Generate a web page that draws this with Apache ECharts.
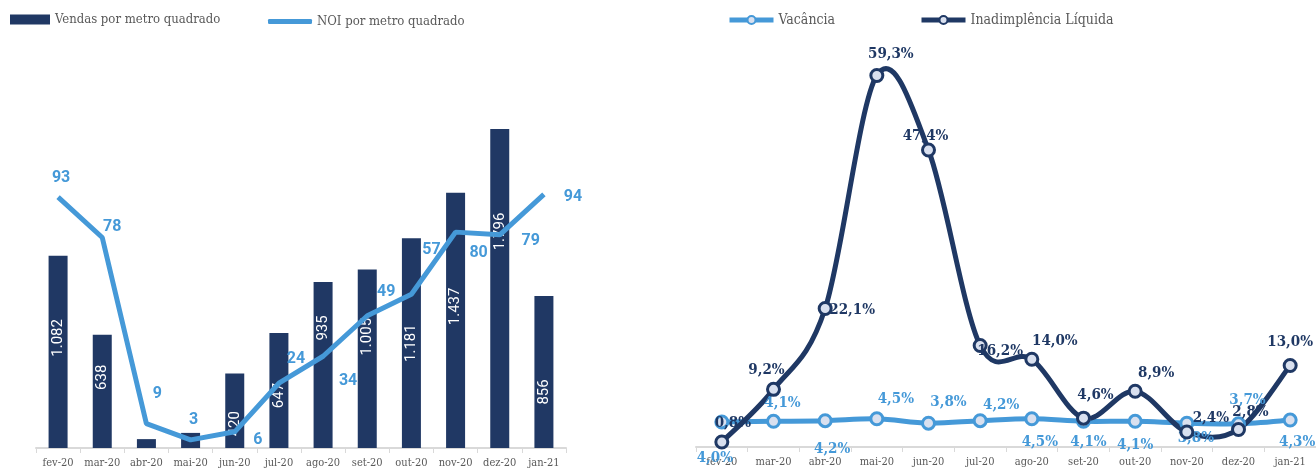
<!DOCTYPE html>
<html>
<head>
<meta charset="utf-8">
<script src="https://cdn.jsdelivr.net/npm/echarts@6/dist/echarts.min.js"></script>
<style>
html,body{margin:0;padding:0;background:#fff;}
#c{width:1316px;height:469px;}
</style>
</head>
<body>
<div id="c"></div>
<script>
// ---- data ----
const months = ['fev-20','mar-20','abr-20','mai-20','jun-20','jul-20','ago-20','set-20','out-20','nov-20','dez-20','jan-21'];
const vendas = [1082, 638, 50, 85, 420, 647, 935, 1005, 1181, 1437, 1796, 856];
const noi = [93, 78, 9, 3, 6, 24, 34, 49, 57, 80, 79, 94];
const vacancia = [4.0, 4.1, 4.2, 4.5, 3.8, 4.2, 4.5, 4.1, 4.1, 3.8, 3.7, 4.3];
const inadimplencia = [0.8, 9.2, 22.1, 59.3, 47.4, 16.2, 14.0, 4.6, 8.9, 2.4, 2.8, 13.0];

// ---- label placement (style) ----
const noiOff = [[3,-19],[10,-11],[11,-30],[3,-20],[23,8],[17,-24],[25,25],[19,-24],[20,-44],[23,21],[31,6],[29,3]];
const barOff = [-14,-14,0,0,13,5,-37,-22,0,-14,-57,20];
const inadOff = [[11,-19],[-7,-19],[27,2],[14,-21],[-3,-14],[20,6],[23,-18],[12,-23],[21,-18],[24,-14],[12,-17],[0,-23]];
const vacOff = [[-7,36],[9,-18],[7,28],[19,-20],[20,-21],[21,-16],[8,23],[5,21],[0,24],[9,15],[9,-24],[7,22]];

const NAVY = '#1f3864';
const LBLUE = '#4599d8';
const GRAY = '#595959';
const SLAB = "'Roboto Slab','DejaVu Serif Condensed','DejaVu Serif',serif";
const SANS = "Roboto, 'Noto Sans', sans-serif";

const fmtThousands = v => String(v).replace(/\B(?=(\d{3})+(?!\d))/g, '.');
const fmtPct = v => v.toFixed(1).replace('.', ',') + '%';

// smooth curve (Catmull-Rom style, like spreadsheet smoothing) drawn through the axis scales
function curveSeries(values, color, z) {
  return {
    type: 'custom',
    coordinateSystem: 'cartesian2d',
    xAxisIndex: 1, yAxisIndex: 2,
    z: z, silent: true,
    data: [[0, values[0]]],
    renderItem: function (params, api) {
      const p = values.map((v, i) => api.coord([i, v]));
      const n = p.length;
      const children = [];
      for (let i = 0; i < n - 1; i++) {
        const p0 = p[Math.max(i - 1, 0)], p1 = p[i], p2 = p[i + 1], p3 = p[Math.min(i + 2, n - 1)];
        children.push({
          type: 'bezierCurve',
          shape: {
            x1: p1[0], y1: p1[1], x2: p2[0], y2: p2[1],
            cpx1: p1[0] + (p2[0] - p0[0]) / 6, cpy1: p1[1] + (p2[1] - p0[1]) / 6,
            cpx2: p2[0] - (p3[0] - p1[0]) / 6, cpy2: p2[1] - (p3[1] - p1[1]) / 6
          },
          style: {stroke: color, lineWidth: 5, fill: null, lineCap: 'round'}
        });
      }
      return {type: 'group', children: children};
    }
  };
}

const chart = echarts.init(document.getElementById('c'));

const xAxisCommon = {
  type: 'category',
  data: months,
  boundaryGap: true,
  axisLine: {show: true, lineStyle: {color: '#d9d9d9', width: 2}},
  axisTick: {show: true, alignWithLabel: false, length: 5, lineStyle: {color: '#d9d9d9', width: 1}},
  axisLabel: {color: GRAY, fontSize: 11, fontFamily: SLAB, margin: 10, interval: 0}
};

const legText = size => ({color: GRAY, fontSize: size, fontFamily: SLAB});

const option = {
  animation: false,
  backgroundColor: '#fff',
  legend: [
    {
      left: 5, top: 8, itemWidth: 40, itemHeight: 10, selectedMode: false,
      textStyle: legText(13),
      data: [{name: 'Vendas por metro quadrado', icon: 'rect', itemStyle: {color: '#203864', borderWidth: 0}}]
    },
    {
      left: 263, top: 10, itemWidth: 44, itemHeight: 5, selectedMode: false,
      textStyle: legText(13),
      data: [{name: 'NOI por metro quadrado', icon: 'roundRect', itemStyle: {color: LBLUE, borderWidth: 0}}]
    },
    {
      left: 722, top: 8, itemWidth: 44, itemHeight: 10, selectedMode: false,
      textStyle: legText(14),
      data: [{name: 'Vacância', lineStyle: {opacity: 1, width: 5, color: LBLUE}}]
    },
    {
      left: 914, top: 8, itemWidth: 44, itemHeight: 10, selectedMode: false,
      textStyle: legText(14),
      data: [{name: 'Inadimplência Líquida', lineStyle: {opacity: 1, width: 5, color: NAVY}}]
    }
  ],
  grid: [
    {left: 36, width: 530, bottom: 21, height: 340},
    {left: 696, right: 0, bottom: 22, height: 401}
  ],
  xAxis: [
    Object.assign({gridIndex: 0}, xAxisCommon),
    Object.assign({gridIndex: 1}, xAxisCommon)
  ],
  yAxis: [
    {gridIndex: 0, type: 'value', min: 0, max: 1914, show: false, splitLine: {show: false}},
    {gridIndex: 0, type: 'value', min: 0, max: 126, show: false, splitLine: {show: false}},
    {gridIndex: 1, type: 'value', min: 0, max: 64, show: false, splitLine: {show: false}}
  ],
  series: [
    {
      name: 'Vendas por metro quadrado',
      type: 'bar',
      xAxisIndex: 0, yAxisIndex: 0,
      barWidth: 19,
      itemStyle: {color: '#203864'},
      data: vendas.map((v, i) => ({
        value: v,
        label: {
          show: v >= 200,
          position: 'inside',
          rotate: 90,
          offset: [-barOff[i], 0],
          color: '#fff',
          fontSize: 15,
          fontFamily: SANS,
          formatter: p => fmtThousands(p.value)
        }
      }))
    },
    {
      name: 'NOI por metro quadrado',
      type: 'line',
      xAxisIndex: 0, yAxisIndex: 1,
      symbol: 'circle',
      symbolSize: 1,
      showSymbol: true,
      lineStyle: {color: LBLUE, width: 5},
      itemStyle: {color: 'rgba(0,0,0,0)'},
      z: 5,
      data: noi.map((v, i) => ({
        value: v,
        label: {
          show: true,
          position: 'inside',
          offset: noiOff[i],
          color: LBLUE,
          fontSize: 16,
          fontWeight: 'bold',
          fontFamily: SANS
        }
      }))
    },
    curveSeries(vacancia, LBLUE, 3),
    curveSeries(inadimplencia, NAVY, 4),
    {
      name: 'Vacância',
      type: 'line',
      xAxisIndex: 1, yAxisIndex: 2,
      symbol: 'circle',
      symbolSize: 12,
      lineStyle: {color: LBLUE, width: 5, opacity: 0},
      itemStyle: {color: '#d9e0ef', borderColor: LBLUE, borderWidth: 3},
      z: 6,
      data: vacancia.map((v, i) => ({
        value: v,
        label: {
          show: true,
          position: 'inside',
          offset: vacOff[i],
          color: LBLUE,
          fontSize: 15,
          fontWeight: 'bold',
          fontFamily: SLAB,
          formatter: p => fmtPct(p.value)
        }
      }))
    },
    {
      name: 'Inadimplência Líquida',
      type: 'line',
      xAxisIndex: 1, yAxisIndex: 2,
      symbol: 'circle',
      symbolSize: 12,
      lineStyle: {color: NAVY, width: 5, opacity: 0},
      itemStyle: {color: '#d9e0ef', borderColor: NAVY, borderWidth: 3},
      z: 7,
      data: inadimplencia.map((v, i) => ({
        value: v,
        label: {
          show: true,
          position: 'inside',
          offset: inadOff[i],
          color: NAVY,
          fontSize: 15,
          fontWeight: 'bold',
          fontFamily: SLAB,
          formatter: p => fmtPct(p.value)
        }
      }))
    }
  ]
};
chart.setOption(option);
</script>
</body>
</html>
